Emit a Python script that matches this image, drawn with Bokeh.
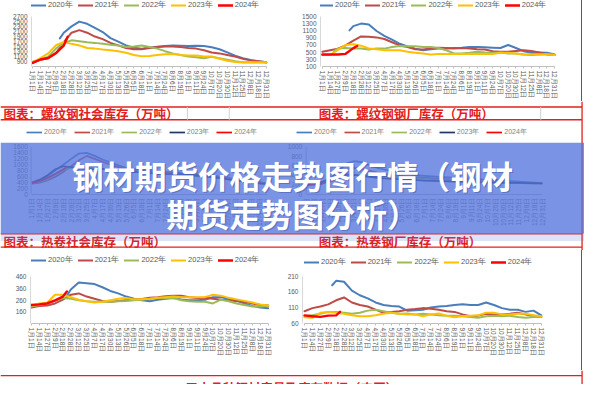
import math
from bokeh.plotting import figure
from bokeh.models import Range1d, FixedTicker, Legend, LegendItem, Div
from bokeh.layouts import column, row
from bokeh.embed import file_html
from bokeh.resources import INLINE
from bokeh.core.properties import value

SX = 584 / 600
SY = 384 / 400

# ---------------- data ----------------
DATE_LABELS = ["1月1日", "1月14日", "1月27日", "2月9日", "2月18日", "2月28日", "3月12日",
               "3月25日", "4月7日", "4月17日", "4月30日", "5月13日", "5月26日", "6月5日",
               "6月18日", "7月1日", "7月14日", "7月24日", "8月6日", "8月19日", "9月1日",
               "9月11日", "9月24日", "10月7日", "10月20日", "10月30日", "11月12日",
               "11月25日", "12月8日", "12月18日", "12月31日"]
YEARS = ["2020年", "2021年", "2022年", "2023年", "2024年"]

IDX = list(range(31))
IDX_FROM_1H = [1.5] + list(range(2, 31))
IDX_FROM_3H = [3.5] + list(range(4, 31))
IDX_FROM_4H = [4.5] + list(range(5, 31))
IDX_TO_4H = [0, 1, 2, 3, 4, 4.5]

# 螺纹钢社会库存
rs_2020 = [1834, 2063, 2318, 2509, 2420, 2254, 2089, 1847, 1706, 1554, 1464, 1426, 1464, 1503,
           1528, 1554, 1541, 1528, 1541, 1528, 1480, 1400, 1273, 1146, 1044, 968, 917, 878]
rs_2021 = [853, 980, 1044, 1235, 1681, 2063, 2165, 2063, 1910, 1808, 1656, 1554, 1452, 1400, 1400,
           1452, 1490, 1515, 1515, 1490, 1452, 1426, 1362, 1273, 1235, 1171, 1108, 1019, 955, 917, 878]
rs_2022 = [900, 980, 1100, 1426, 1656, 1757, 1719, 1681, 1656, 1617, 1579, 1554, 1490, 1515, 1554,
           1490, 1426, 1324, 1235, 1171, 1108, 1082, 1044, 1095, 1044, 980, 917, 878, 878, 878, 866]
rs_2023 = [878, 1044, 1235, 1560, 1690, 1617, 1554, 1452, 1426, 1388, 1362, 1324, 1260, 1171, 1120,
           1133, 1171, 1197, 1210, 1171, 1146, 1146, 1108, 1108, 1019, 942, 891, 866, 866, 866, 878]
rs_2024 = [853, 990, 1050, 1250, 1550, 1900]

# 螺纹钢钢厂库存
rm_2020 = [1111, 1229, 1301, 1274, 1093, 958, 850, 732, 660, 597, 552, 579, 597, 597, 615, 624,
           642, 642, 633, 624, 615, 700, 615, 524, 480, 490, 480, 434]
rm_2021 = [506, 552, 597, 687, 822, 940, 931, 913, 868, 777, 687, 642, 579, 570, 597, 624, 615,
           597, 615, 597, 579, 570, 524, 506, 506, 533, 552, 533, 488, 434, 416]
rm_2022 = [524, 597, 615, 597, 597, 570, 597, 597, 642, 669, 660, 660, 642, 642, 615, 552, 461,
           461, 479, 506, 488, 479, 488, 461, 461, 434, 416, 434, 443, 416]
rm_2023 = [416, 416, 560, 700, 720, 680, 600, 579, 552, 552, 552, 506, 479, 461, 434, 443, 443,
           443, 443, 443, 443, 443, 443, 479, 479, 461, 434, 434, 434, 434, 416]
rm_2024 = [430, 430, 430, 450, 610, 670]

# 热卷社会库存 (blurred, under banner)
ml_2020 = [380, 470, 620, 820, 1000, 1200, 1380, 1400, 1300, 1180, 1080, 980, 900, 860, 820, 800,
           780, 760, 740, 720, 700, 680, 660, 640, 600, 560, 520, 480, 440, 410, 380]
ml_2021 = [360, 400, 480, 600, 760, 950, 1150, 1300, 1200, 1100, 1000, 920, 860, 820, 800, 780,
           760, 740, 720, 700, 680, 660, 640, 620, 580, 540, 500, 460, 430, 400, 370]
ml_2022 = [380, 420, 520, 680, 820, 900, 920, 900, 880, 860, 840, 820, 800, 780, 760, 740, 720,
           700, 680, 660, 640, 620, 600, 580, 560, 520, 480, 440, 400, 370, 350]
ml_2023 = [400, 500, 650, 850, 950, 920, 880, 860, 850, 860, 850, 820, 790, 760, 740, 720, 700,
           690, 680, 670, 650, 630, 610, 580, 550, 510, 470, 430, 400, 370, 350]
ml_2024 = [380, 450, 560, 700, 850, 930]

# 热卷钢厂库存 (blurred, under banner)
mr_2020 = [240, 250, 270, 350, 480, 650, 700, 680, 620, 560, 520, 480, 450, 420, 400, 390, 380,
           370, 360, 350, 340, 330, 320, 310, 300, 290, 280, 270, 260, 250, 240]
mr_2021 = [200, 210, 230, 300, 420, 520, 560, 540, 500, 460, 430, 410, 390, 370, 360, 350, 340,
           330, 320, 310, 300, 290, 280, 270, 260, 255, 250, 245, 240, 235, 230]
mr_2022 = [220, 230, 250, 300, 360, 400, 420, 410, 400, 390, 380, 370, 360, 350, 340, 330, 320,
           310, 300, 290, 280, 270, 265, 260, 255, 250, 245, 240, 235, 230, 225]
mr_2023 = [210, 220, 260, 330, 400, 420, 410, 390, 370, 350, 340, 330, 320, 310, 300, 290, 285,
           280, 275, 270, 265, 260, 255, 250, 248, 246, 244, 242, 240, 238, 236]
mr_2024 = [200, 210, 230, 280, 340, 380]

# 下方左图
bl_2020 = [300, 353, 412, 407, 399, 372, 340, 319, 292, 273, 260, 252, 265, 273, 279, 268, 260,
           260, 265, 287, 287, 273, 260, 233, 212, 199, 193]
bl_2021 = [199, 212, 215, 233, 265, 308, 319, 292, 273, 255, 247, 255, 260, 265, 271, 281, 287,
           295, 300, 300, 287, 279, 281, 273, 265, 260, 252, 247, 233, 220, 215]
bl_2022 = [207, 220, 233, 255, 279, 273, 260, 252, 247, 247, 247, 252, 255, 260, 265, 273, 279,
           281, 279, 260, 252, 247, 247, 233, 265, 252, 233, 220, 207, 207, 212]
bl_2023 = [212, 233, 239, 308, 308, 287, 265, 252, 241, 247, 260, 273, 279, 268, 268, 273, 281,
           287, 292, 287, 287, 287, 287, 308, 300, 281, 268, 255, 241, 225, 215]
bl_2024 = [220, 225, 233, 260, 292, 335]

# 下方右图
br_2020 = [181, 195, 192, 164, 149, 139, 126, 118, 115, 113, 100, 101, 103, 110, 113, 115, 118,
           120, 118, 118, 126, 118, 108, 103, 103, 96, 100, 85]
br_2021 = [98, 108, 113, 120, 133, 142, 126, 118, 113, 103, 93, 96, 98, 103, 105, 108, 106, 103,
           98, 96, 88, 82, 84, 90, 88, 88, 90, 93, 88, 84, 80]
br_2022 = [82, 85, 90, 96, 96, 93, 90, 93, 100, 103, 98, 93, 90, 91, 88, 90, 88, 85, 84, 84, 82,
           80, 77, 82, 84, 82, 84, 80, 77, 80, 80]
br_2023 = [79, 77, 93, 96, 93, 90, 85, 82, 82, 85, 90, 93, 90, 88, 88, 82, 88, 91, 84, 79, 82, 84,
           85, 93, 93, 88, 88, 90, 90, 85, 82]
br_2024 = [85, 82, 80, 84, 85, 96]

CAP_TL = "图表：螺纹钢社会库存（万吨）"
CAP_TR = "图表：螺纹钢钢厂库存（万吨）"
CAP_ML = "图表：热卷社会库存（万吨）"
CAP_MR = "图表：热卷钢厂库存（万吨）"
FOOTER = "五大品种钢材产量及库存数据（农历）"
BANNER1 = "钢材期货价格走势图行情（钢材"
BANNER2 = "期货走势图分析）"

C2020, C2021, C2022, C2023, C2024 = "#4A7EBB", "#BE4B48", "#9BBB59", "#FFC000", "#FF0000"
NAVY = "#1F3864"
RED = "#E3201B"
GRAY_TXT = "#595959"
FONT = "Liberation Sans"
CJK = "Noto Sans CJK SC"

MID_TOP, MID_BOT = 105, 260   # reference-pixel extent of the middle band


def rng(v0, p0, v1, p1, lo, hi):
    k = (v1 - v0) / (p1 - p0)
    return Range1d(start=v0 + (lo - p0) * k, end=v0 + (hi - p0) * k)


def make_chart(w, h, fl, fr, fb, xmap, ymap, yticks, series, leg_center, leg_x):
    """Frame spans from the figure top down to the x axis (reference pixel units)."""
    W = round(w * SX)
    H = round(h * SY)
    L = round(fl * SX)
    R = W - round(fr * SX)
    B = H - round(fb * SY)
    xr = rng(*xmap, L / SX, (W - R) / SX)
    yr = rng(*ymap, (H - B) / SY, 0)
    p = figure(width=W, height=H, x_range=xr, y_range=yr, min_border_left=L,
               min_border_right=R, min_border_top=0, min_border_bottom=B,
               toolbar_location=None, output_backend="svg")
    p.outline_line_color = None
    p.grid.visible = False
    p.xaxis.ticker = FixedTicker(ticks=IDX)
    p.xaxis.major_label_overrides = {i: lab for i, lab in zip(IDX, DATE_LABELS)}
    p.xaxis.major_label_orientation = "vertical"
    p.xaxis.major_label_standoff = 2
    p.xaxis.major_tick_out = 2
    p.xaxis.major_tick_in = 0
    p.xaxis.minor_tick_out = 0
    p.xaxis.major_tick_line_color = "#BFBFBF"
    p.xaxis.axis_line_color = "#BFBFBF"
    p.xaxis.bounds = (IDX[0], IDX[-1])
    p.yaxis.ticker = FixedTicker(ticks=yticks)
    p.yaxis.bounds = (yticks[0], yticks[-1])
    p.yaxis.major_tick_out = 0
    p.yaxis.major_tick_in = 0
    p.yaxis.minor_tick_out = 0
    p.yaxis.minor_tick_in = 0
    p.yaxis.major_label_standoff = 4
    p.yaxis.axis_line_color = "#D9D9D9"
    for ax in (p.xaxis, p.yaxis):
        ax.major_label_text_font_size = "6.5px"
        ax.major_label_text_color = GRAY_TXT
        ax.major_label_text_font = FONT
    items = []
    for label, xs, ys, color, lw in series:
        r = p.line(xs, ys, line_color=color, line_width=lw, line_join="round", line_cap="round")
        items.append(LegendItem(label=label, renderers=[r]))
    leg_bottom = fb - (leg_center + 5.2)
    leg = Legend(items=items, orientation="horizontal",
                 location=(round(leg_x * SX), round(leg_bottom * SY)),
                 padding=0, margin=0, spacing=5, glyph_width=15, glyph_height=10,
                 label_height=10, label_standoff=2, label_text_font_size="7.5px",
                 label_text_color=GRAY_TXT, label_text_font=FONT,
                 background_fill_alpha=0, border_line_alpha=0)
    p.add_layout(leg, "center")
    return p


def five(a, b, c, d, e, xa, xe):
    return [(YEARS[0], xa, a, C2020, 2), (YEARS[1], IDX, b, C2021, 2),
            (YEARS[2], IDX if len(c) == 31 else IDX_FROM_1H, c, C2022, 2),
            (YEARS[3], IDX, d, C2023, 2), (YEARS[4], xe, e, C2024, 2.4)]


bh = 385 - MID_BOT
tl = make_chart(300, MID_TOP, 32, 276, 69, (0, 33, 30, 273), (700, 69, 2700, 17),
                list(range(700, 2701, 200)),
                five(rs_2020, rs_2021, rs_2022, rs_2023, rs_2024, IDX_FROM_3H, IDX_TO_4H), 5, 0)
tr = make_chart(297, MID_TOP, 29, 272, 69, (0, 30.7, 30, 269.3), (100, 68.5, 1500, 16.7),
                list(range(100, 1501, 200)),
                five(rm_2020, rm_2021, rm_2022, rm_2023, rm_2024, IDX_FROM_3H, IDX_TO_4H), 5, -2)
bl = make_chart(288, bh, 31, 278, 338.3 - MID_BOT, (0, 31.7, 30, 275),
                (60, 338.3 - MID_BOT, 460, 288.3 - MID_BOT), list(range(60, 461, 100)),
                five(bl_2020, bl_2021, bl_2022, bl_2023, bl_2024, IDX_FROM_4H, IDX_TO_4H),
                273 - MID_BOT, 1)
br = make_chart(309, bh, 22.5, 272, 335.7 - MID_BOT, (0, 24.7, 30, 268),
                (60, 335.7 - MID_BOT, 210, 286.7 - MID_BOT), list(range(60, 211, 50)),
                five(br_2020, br_2021, br_2022, br_2023, br_2024, IDX_FROM_3H, IDX_TO_4H),
                272 - MID_BOT, 2.5)

# ---------------- middle band ----------------
mid = figure(width=584, height=round((MID_BOT - MID_TOP) * SY),
             x_range=Range1d(0, 600), y_range=Range1d(MID_BOT, MID_TOP),
             x_axis_type=None, y_axis_type=None, min_border=0, toolbar_location=None,
             output_backend="svg")
mid.outline_line_color = None
mid.grid.visible = False
mid.extra_x_ranges = {"mlx": rng(0, 32.3, 30, 274, 0, 600),
                      "mrx": rng(0, 314.7, 30, 556.7, 0, 600)}
mid.extra_y_ranges = {"mly": rng(0, 201.7, 1600, 152.3, MID_BOT, MID_TOP),
                      "mry": rng(0, 201.7, 1000, 152.3, MID_BOT, MID_TOP)}

# caption band of the upper charts
mid.segment(x0=[0, 0], y0=[110.7, 124], x1=[597.5, 597.5], y1=[110.7, 124],
            line_color=RED, line_width=1.3)
mid.segment(x0=[192, 235, 555], y0=[110.7] * 3, x1=[192, 235, 555], y1=[124] * 3,
            line_color="#D0D0D0", line_width=1)
mid.text(x=[3, 327], y=[117.5, 117.5], text=[CAP_TL, CAP_TR], text_color=RED,
         text_font=value(CJK), text_font_style="bold", text_font_size="12.5px",
         text_baseline="middle", text_align="left")

# hidden middle charts
mid_specs = [
    ("mlx", "mly", [ml_2020, ml_2021, ml_2022, ml_2023, ml_2024], list(range(0, 1601, 200)), 28, 31.5, 27),
    ("mrx", "mry", [mr_2020, mr_2021, mr_2022, mr_2023, mr_2024], list(range(0, 1001, 200)), 310, 314, 304),
]
mid_colors = [C2020, C2021, C2022, NAVY, C2024]
for xn, yn, ser, ticks, lab_x, axis_x, leg_x in mid_specs:
    mid.segment(x0=[axis_x], y0=[ticks[0]], x1=[axis_x], y1=[ticks[-1]], y_range_name=yn,
                line_color="#BFBFBF", line_width=1)
    mid.segment(x0=[IDX[0]], y0=[ticks[0]], x1=[IDX[-1]], y1=[ticks[0]], x_range_name=xn,
                y_range_name=yn, line_color="#BFBFBF", line_width=1)
    mid.text(x=[lab_x] * len(ticks), y=ticks, text=[str(t) for t in ticks], y_range_name=yn,
             text_align="right", text_baseline="middle", text_font_size="6.5px",
             text_color="#6F6F6F", text_font=value(FONT))
    mid.text(x=IDX, y=[205] * len(IDX), text=DATE_LABELS, x_range_name=xn, angle=math.pi / 2,
             text_align="right", text_baseline="middle", text_font_size="6.5px",
             text_color="#6F6F6F", text_font=value(FONT))
    items = []
    for k, ys in enumerate(ser):
        xs = IDX if len(ys) == 31 else IDX_TO_4H
        r = mid.line(xs, ys, x_range_name=xn, y_range_name=yn, line_color=mid_colors[k],
                     line_width=1.7)
        items.append(LegendItem(label=YEARS[k], renderers=[r]))
    mid.add_layout(Legend(items=items, orientation="horizontal",
                          location=(round(leg_x * SX), round((MID_BOT - 142) * SY)),
                          padding=0, margin=0, spacing=7, glyph_width=16, glyph_height=10,
                          label_height=10, label_standoff=2, label_text_font_size="7px",
                          label_text_color="#7F7F7F", label_text_font=FONT,
                          background_fill_alpha=0, border_line_alpha=0), "center")

mid.segment(x0=[597.5], y0=[MID_TOP], x1=[597.5], y1=[MID_BOT], line_color=RED, line_width=1.3)
# caption band of the middle charts
mid.segment(x0=[0, 0], y0=[242.7, 256.5], x1=[597.5, 597.5], y1=[242.7, 256.5],
            line_color=RED, line_width=1.3)
mid.text(x=[3, 327], y=[250.3, 250.3], text=[CAP_ML, CAP_MR], text_color=RED,
         text_font=value(CJK), text_font_style="bold", text_font_size="12.5px",
         text_baseline="middle", text_align="left")

# banner overlay
mid.quad(left=[0], right=[600], top=[148], bottom=[242.5], fill_color="#5575DD",
         fill_alpha=0.78, line_color=None)
mid.quad(left=[0], right=[600], top=[242.5], bottom=[250], fill_color="#5575DD",
         fill_alpha=0.2, line_color=None)
mid.text(x=[301.2, 301.2], y=[182, 222], text=[BANNER1, BANNER2], text_color="#3B4C96",
         text_alpha=0.45, text_font=value(CJK), text_font_style="bold", text_font_size="31.5px",
         text_align="center", text_baseline="middle")
mid.text(x=[300, 300], y=[181, 221], text=[BANNER1, BANNER2], text_color="white",
         text_font=value(CJK), text_font_style="bold", text_font_size="31.5px",
         text_align="center", text_baseline="middle")

# ---------------- footer ----------------
foot = figure(width=584, height=14, x_range=Range1d(0, 600), y_range=Range1d(400, 385),
              x_axis_type=None, y_axis_type=None, min_border=0, toolbar_location=None,
              output_backend="svg")
foot.outline_line_color = None
foot.grid.visible = False
foot.segment(x0=[0, 597.5], y0=[390.5, 385], x1=[597.5, 597.5], y1=[390.5, 400],
             line_color=RED, line_width=1.3)
foot.text(x=[190], y=[392.5], text=[FOOTER], text_color=RED, text_font=value(CJK),
          text_font_style="bold", text_font_size="12.5px", text_baseline="top",
          text_align="left")

edge1 = Div(width=1, height=tl.height, margin=0, styles={"background-color": RED})
edge2 = Div(width=1, height=bl.height, margin=0, styles={"background-color": RED})

layout = column(row(tl, tr, edge1), mid, row(bl, br, edge2), foot)

open("out.html", "w").write(file_html(layout, INLINE))
